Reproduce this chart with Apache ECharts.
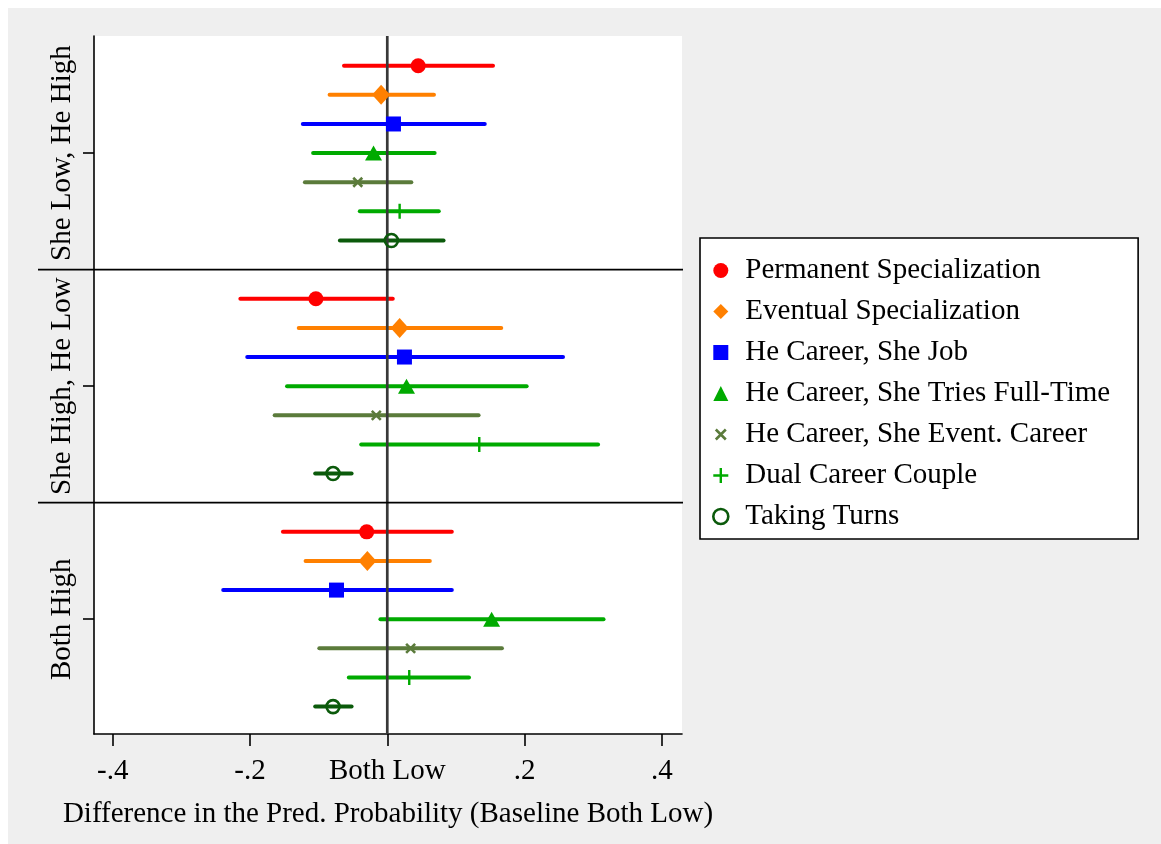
<!DOCTYPE html>
<html>
<head>
<meta charset="utf-8">
<script src="https://cdn.jsdelivr.net/npm/echarts@6/dist/echarts.min.js"></script>
<style>
html,body{margin:0;padding:0;background:#ffffff;width:1161px;height:844px;overflow:hidden;}
#c{position:absolute;left:8px;top:8px;width:1153px;height:836px;}
</style>
</head>
<body>
<div id="c"></div>
<script>
// ---- data ----
const panels = ['She Low, He High', 'She High, He Low', 'Both High'];
const seriesNames = [
  'Permanent Specialization',
  'Eventual Specialization',
  'He Career, She Job',
  'He Career, She Tries Full-Time',
  'He Career, She Event. Career',
  'Dual Career Couple',
  'Taking Turns'
];
// point estimates / lower / upper bounds, one value per series (in legend order)
const estSheLowHeHigh = [0.045, -0.009, 0.009, -0.020, -0.043, 0.018, 0.006];
const loSheLowHeHigh  = [-0.063, -0.084, -0.123, -0.108, -0.120, -0.040, -0.069];
const hiSheLowHeHigh  = [0.154, 0.068, 0.142, 0.069, 0.035, 0.075, 0.082];

const estSheHighHeLow = [-0.104, 0.018, 0.025, 0.028, -0.016, 0.134, -0.079];
const loSheHighHeLow  = [-0.214, -0.129, -0.204, -0.146, -0.164, -0.038, -0.105];
const hiSheHighHeLow  = [0.008, 0.166, 0.256, 0.203, 0.133, 0.307, -0.052];

const estBothHigh = [-0.030, -0.029, -0.074, 0.152, 0.034, 0.032, -0.079];
const loBothHigh  = [-0.152, -0.119, -0.239, -0.010, -0.099, -0.056, -0.105];
const hiBothHigh  = [0.094, 0.062, 0.094, 0.315, 0.167, 0.119, -0.052];

const xTickValues = [-0.4, -0.2, 0, 0.2, 0.4];
const xTickLabels = ['-.4', '-.2', 'Both Low', '.2', '.4'];

// ---- styling ----
const colors = ['#ff0000', '#ff8000', '#0000ff', '#00aa00', '#5b7b3b', '#00aa00', '#0b5a0b'];
const FONT = 'Liberation Serif, Times New Roman, serif';
const xPath = 'path://M0,0L10,10M10,0L0,10';
const plusPath = 'path://M5,0L5,10M0,5L10,5';
const xPathLegend = 'path://M-2.5,-2.5M0,0L10,10M10,0L0,10M12.5,12.5';

const markers = [
  {symbol: 'circle', size: 15, style: {color: colors[0]}},
  {symbol: 'diamond', size: [18, 20], style: {color: colors[1]}},
  {symbol: 'rect', size: 15, style: {color: colors[2]}},
  {symbol: 'triangle', size: [17, 15], style: {color: colors[3]}},
  {symbol: xPath, size: 9, style: {color: 'rgba(0,0,0,0)', borderColor: colors[4], borderWidth: 2.6}},
  {symbol: plusPath, size: 15, style: {color: 'rgba(0,0,0,0)', borderColor: colors[5], borderWidth: 2.4}},
  {symbol: 'circle', size: 13, style: {color: 'rgba(0,0,0,0)', borderColor: colors[6], borderWidth: 2.6}}
];
const legendIcons = ['circle', 'diamond', 'rect', 'triangle', xPathLegend, plusPath, 'circle'];

const est = [estSheLowHeHigh, estSheHighHeLow, estBothHigh];
const lo = [loSheLowHeHigh, loSheHighHeLow, loBothHigh];
const hi = [hiSheLowHeHigh, hiSheHighHeLow, hiBothHigh];

// row position: panel p, series s -> p*8 + s  (row 7 and 15 are separators)
const rowPos = (p, s) => p * 8 + s;
const panelTickPos = panels.map((_, p) => p * 8 + 3);
const separatorPos = [7, 15];

const Y_MIN = -1.02, Y_MAX = 22.94;

const series = [];
seriesNames.forEach((name, s) => {
  const ciData = panels.map((_, p) => [lo[p][s], hi[p][s], rowPos(p, s)]);
  series.push({
    type: 'custom',
    name: name + ' CI',
    z: 2,
    silent: true,
    encode: {x: [0, 1], y: 2},
    data: ciData,
    renderItem: function (params, api) {
      const y = api.value(2);
      const a = api.coord([api.value(0), y]);
      const b = api.coord([api.value(1), y]);
      return {
        type: 'line',
        shape: {x1: a[0], y1: a[1], x2: b[0], y2: b[1]},
        style: {stroke: colors[s], lineWidth: 4, lineCap: 'round'}
      };
    }
  });
});
series.push({
  type: 'line',
  name: 'zero',
  z: 3,
  silent: true,
  symbol: 'none',
  lineStyle: {color: '#383838', width: 2.7},
  data: [[0, Y_MIN], [0, Y_MAX]]
});
seriesNames.forEach((name, s) => {
  series.push({
    type: 'scatter',
    name: name,
    z: 4,
    symbol: markers[s].symbol,
    symbolSize: markers[s].size,
    itemStyle: Object.assign({opacity: 1}, markers[s].style),
    data: panels.map((_, p) => [est[p][s], rowPos(p, s)])
  });
});

const chart = echarts.init(document.getElementById('c'), null, {renderer: 'canvas'});
const option = {
  animation: false,
  backgroundColor: '#efefef',
  grid: {left: 86, top: 28, width: 588, height: 698, show: true, backgroundColor: '#ffffff', borderWidth: 0, containLabel: false, outerBoundsMode: 'none'},
  xAxis: {
    type: 'value',
    min: -0.4272,
    max: 0.4293,
    splitLine: {show: false},
    axisLine: {show: true, onZero: false, lineStyle: {color: '#000', width: 1.6}},
    axisTick: {show: true, customValues: xTickValues, length: 12, lineStyle: {color: '#000', width: 1.6}},
    axisLabel: {
      show: true, customValues: xTickValues, margin: 23,
      fontSize: 29, fontFamily: FONT, color: '#000',
      formatter: function (v) { const i = xTickValues.findIndex(t => Math.abs(t - v) < 1e-9); return i >= 0 ? xTickLabels[i] : ''; }
    },
    name: 'Difference in the Pred. Probability (Baseline Both Low)',
    nameLocation: 'middle',
    nameGap: 66,
    nameTextStyle: {fontSize: 29, fontFamily: FONT, color: '#000'}
  },
  yAxis: {
    type: 'value',
    inverse: true,
    min: Y_MIN,
    max: Y_MAX,
    splitLine: {show: false},
    axisLine: {show: true, onZero: false, lineStyle: {color: '#000', width: 1.6}},
    axisTick: {show: true, customValues: panelTickPos, length: 11, lineStyle: {color: '#000', width: 1.6}},
    axisLabel: {
      show: true, customValues: panelTickPos, rotate: 90, margin: 17,
      fontSize: 29, fontFamily: FONT, color: '#000',
      formatter: function (v) { const i = panelTickPos.indexOf(Math.round(v)); return i >= 0 ? panels[i] : ''; }
    }
  },
  legend: {
    orient: 'vertical',
    left: 692,
    top: 230,
    padding: [18, 28, 8, 12],
    itemWidth: 15,
    itemHeight: 15,
    itemGap: 12,
    symbolKeepAspect: true,
    backgroundColor: '#ffffff',
    borderColor: '#000000',
    borderWidth: 1.6,
    borderRadius: 0,
    selectedMode: false,
    textStyle: {fontSize: 29, lineHeight: 29, fontFamily: FONT, color: '#000', padding: [0, 0, 0, 12]},
    data: seriesNames.map((n, s) => ({
      name: n,
      icon: legendIcons[s],
      itemStyle: Object.assign({opacity: 1}, markers[s].style)
    }))
  },
  series: series
};
chart.setOption(option);

// panel separator lines, positioned through the y scale
const leftX = 30;
const rightX = chart.convertToPixel({xAxisIndex: 0}, 0.4293) + 1;
chart.setOption({
  graphic: separatorPos.map(v => {
    const y = chart.convertToPixel({yAxisIndex: 0}, v);
    return {
      type: 'line',
      z: 10,
      silent: true,
      shape: {x1: leftX, y1: y, x2: rightX, y2: y},
      style: {stroke: '#000', lineWidth: 1.8}
    };
  })
});
</script>
</body>
</html>
